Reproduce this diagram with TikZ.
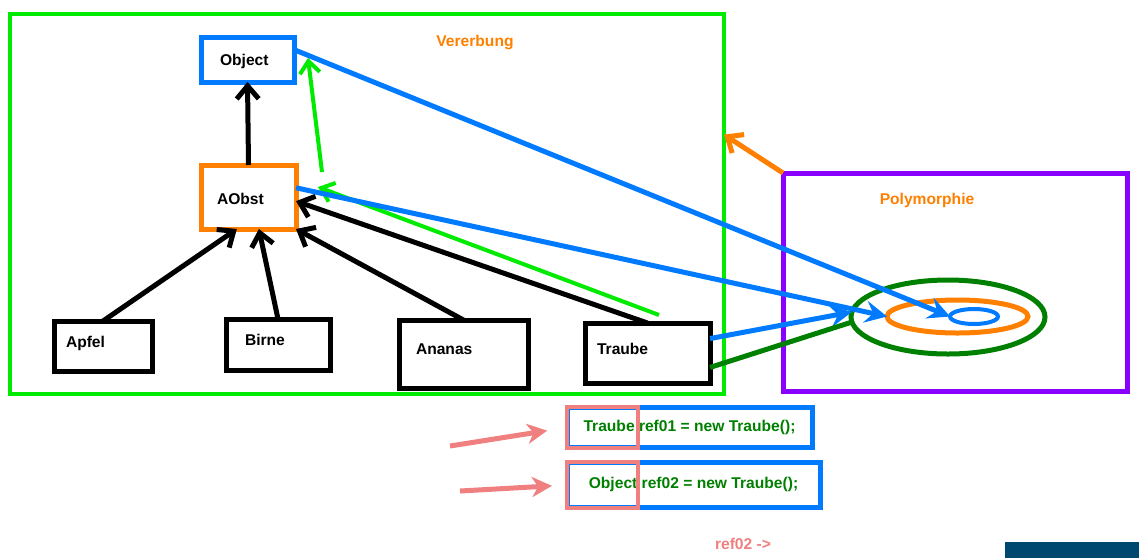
\documentclass[tikz,border=0pt]{standalone}
\usepackage{fontspec}
\setmainfont{Liberation Sans}
\usetikzlibrary{arrows.meta,shapes.geometric}
\definecolor{erbgreen}{RGB}{0,235,0}
\definecolor{refblue}{RGB}{0,122,255}
\definecolor{obstorange}{RGB}{255,128,0}
\definecolor{polypurple}{RGB}{136,0,255}
\definecolor{typgreen}{RGB}{0,128,0}
\definecolor{typrose}{RGB}{240,128,128}
\definecolor{barnavy}{RGB}{0,72,112}

\begin{document}
\begin{tikzpicture}[x=0.5pt, y=-0.5pt,
    every node/.style={font=\bfseries\fontsize{7.8}{9}\selectfont, inner sep=0pt, outer sep=0pt},
    klasse/.style={draw, line width=2.5pt, align=left},
    erbt/.style={line width=2.5pt, -{Straight Barb[length=6.5pt,width=11pt]}},
    hinweis/.style={erbgreen, line width=2pt, -{Straight Barb[length=6pt,width=10pt]}},
    verweis/.style={refblue, line width=2.5pt, -{Stealth[length=11pt,width=11pt,inset=4pt]}},
    menge/.style={ellipse, draw, line width=2.5pt},
    zeiger/.style={typrose, line width=2.5pt, -{Stealth[length=10pt,width=10pt,inset=3pt]}}]
\useasboundingbox (0,0) rectangle (1139,558);

% frames
\node[draw=erbgreen, line width=2pt, minimum width=357pt, minimum height=190pt] (vererbung) at (367,204) {};
\node[draw=polypurple, line width=2.5pt, minimum width=172pt, minimum height=109pt] (poly) at (955,282) {};
\node[obstorange] (vtitel) at (475,42) {Vererbung};
\node[obstorange] (ptitel) at (927,200) {Polymorphie};

% classes
\node[klasse, draw=refblue, minimum width=46.5pt, minimum height=22.5pt, text width=27.5pt, text height=8pt] (object) at (247.5,59.5) {Object};
\node[klasse, draw=obstorange, minimum width=47.5pt, minimum height=32pt, text width=31.5pt, text height=8pt] (aobst) at (248.5,197) {AObst};
\foreach \n/\t/\x/\y/\w/\h/\tw in {apfel/Apfel/103/346/49/25/37, birne/Birne/278/344.5/52/25.5/33,
    ananas/Ananas/463.5/354/64.5/34/47.5, traube/Traube/647.5/353/62.5/30/50.5} {
    \node[klasse, minimum width=\w pt, minimum height=\h pt, text width=\tw pt, text depth=4.5pt] (\n) at (\x,\y) {\t};
}

\draw[erbt] (aobst.north) -- (object.south);
\draw[erbt] (apfel.north) -- (aobst.-110);
\draw[erbt] (birne.north) -- (aobst.-72);
\draw[erbt] (ananas.north) -- (aobst.south east);
\draw[erbt] (traube.north) -- (aobst.-5);

\coordinate (g1) at (322,172);
\coordinate (g1end) at (308,58);
\coordinate (g2) at (659,315);
\coordinate (g2end) at (318,187);
\draw[hinweis] (g1) -- (g1end);
\draw[hinweis] (g2) -- (g2end);

% sets
\node[menge, draw=typgreen, minimum width=97pt, minimum height=37pt] (aussen) at (948,317) {};
\node[menge, draw=obstorange, minimum width=70.5pt, minimum height=16.5pt] (mitte) at (957.5,316.5) {};
\node[menge, draw=refblue, line width=2pt, minimum width=24pt, minimum height=7.5pt] (kern) at (974,316.5) {};

\draw[verweis] (object.12) -- (kern.west);
\draw[verweis] (aobst.11) -- (mitte.west);
\draw[verweis] (traube.13) -- (aussen.177);
\draw[typgreen, line width=2.5pt] (traube.-13) -- (aussen.183);
\draw[obstorange, erbt] (poly.north west) -- (vererbung.11);

% declarations
\node[draw=refblue, line width=2.5pt, minimum width=122.5pt, minimum height=20pt, text=typgreen] (decl1) at (689.5,427) {Traube ref01 = new Traube();};
\node[draw=refblue, line width=2.5pt, minimum width=126.5pt, minimum height=22.5pt, text=typgreen] (decl2) at (693.5,484.5) {Object ref02 = new Traube();};
\node[draw=typrose, line width=2pt, minimum width=35.5pt, minimum height=20.5pt] (typ1) at (602.5,427.5) {};
\node[draw=typrose, line width=2pt, minimum width=35.5pt, minimum height=23pt] (typ2) at (602.5,485) {};

\coordinate (z1) at (450,446);
\coordinate (z2) at (460,491);
\draw[zeiger, shorten >=10pt] (z1) -- (typ1.west);
\draw[zeiger, shorten >=7.5pt] (z2) -- (typ2.west);

\node[typrose] (merk) at (743,544) {ref02 ->};
\fill[barnavy] (1005,542) rectangle (1139,558);
\end{tikzpicture}
\end{document}
